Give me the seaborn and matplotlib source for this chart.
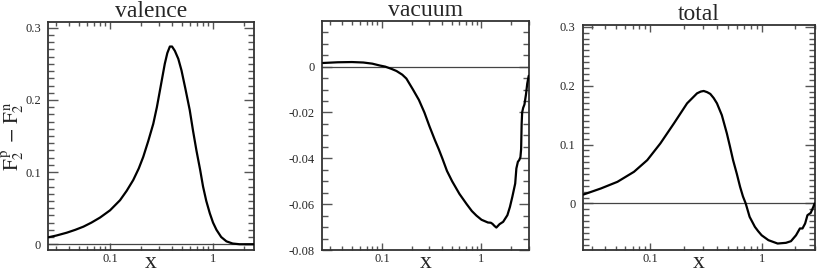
import matplotlib
matplotlib.use('Agg')
import matplotlib.pyplot as plt
import matplotlib.ticker as mticker
import pandas as pd
import seaborn as sns

# Datos (x en escala log, y = F2p - F2n)
valence_x = [0.0253, 0.030, 0.038, 0.046, 0.0552, 0.066, 0.080, 0.100, 0.125, 0.145, 0.168,
             0.19, 0.21, 0.235, 0.263, 0.285, 0.305, 0.34, 0.36, 0.381, 0.40, 0.426, 0.46,
             0.494, 0.54, 0.594, 0.64, 0.69, 0.75, 0.80, 0.86, 0.93, 1.0, 1.08, 1.2, 1.35,
             1.55, 1.81, 2.1, 2.49]
valence_y = [0.0097, 0.012, 0.016, 0.020, 0.0244, 0.030, 0.037, 0.047, 0.061, 0.074, 0.089,
             0.105, 0.121, 0.143, 0.167, 0.190, 0.213, 0.250, 0.265, 0.274, 0.274, 0.268, 0.257,
             0.241, 0.215, 0.186, 0.157, 0.130, 0.103, 0.080, 0.060, 0.043, 0.030, 0.020, 0.010, 0.004,
             0.001, 0.0, 0.0, 0.0]

vacuum_x = [0.0257, 0.036, 0.05, 0.065, 0.08, 0.095, 0.108, 0.125, 0.14, 0.16, 0.176, 0.205,
            0.235, 0.267, 0.30, 0.34, 0.372, 0.404, 0.45, 0.507, 0.6, 0.71, 0.8, 0.89, 1.0,
            1.16, 1.24, 1.29, 1.35, 1.41, 1.46, 1.52, 1.65, 1.82, 1.93, 2.04, 2.18, 2.24,
            2.32, 2.39, 2.46, 2.50, 2.53, 2.56, 2.62, 2.70, 2.80, 2.88, 2.98]
vacuum_y = [0.0016, 0.0019, 0.0020, 0.0018, 0.0013, 0.0005, 0.0, -0.001, -0.0019, -0.0035, -0.0052, -0.010,
            -0.0145, -0.020, -0.026, -0.032, -0.036, -0.040, -0.0455, -0.050, -0.0555, -0.060, -0.063, -0.065, -0.0668,
            -0.068, -0.0681, -0.0686, -0.0695, -0.0702, -0.0695, -0.0687, -0.0677, -0.0648, -0.0612, -0.0568, -0.051, -0.0444,
            -0.0415, -0.0408, -0.0395, -0.036, -0.025, -0.020, -0.018, -0.0165, -0.012, -0.0074, -0.004]

total_x = [0.0255, 0.0364, 0.0512, 0.072, 0.0946, 0.124, 0.164, 0.215, 0.264, 0.285, 0.303,
           0.325, 0.347, 0.372, 0.398, 0.44, 0.488, 0.52, 0.555, 0.60, 0.641, 0.68, 0.72,
           0.78, 0.87, 0.93, 1.0, 1.15, 1.39, 1.65, 1.83, 2.03, 2.2, 2.32, 2.45, 2.57, 2.75,
           2.9, 2.98]
total_y = [0.0153, 0.0255, 0.0368, 0.0538, 0.0736, 0.102, 0.136, 0.170, 0.187, 0.190, 0.191,
           0.189, 0.186, 0.179, 0.170, 0.150, 0.119, 0.097, 0.0735, 0.050, 0.0283, 0.012, 0.0,
           -0.0226, -0.0397, -0.0470, -0.054, -0.0623, -0.068, -0.0668, -0.064, -0.054, -0.0424, -0.0424, -0.034, -0.0199, -0.016,
           -0.0058, 0.0]

titles = ['valence', 'vacuum', 'total']

sns.set_style('ticks')
plt.rcParams['font.family'] = ['Liberation Serif', 'DejaVu Serif']
plt.rcParams['mathtext.fontset'] = 'stix'
plt.rcParams['axes.unicode_minus'] = False

fig = plt.figure(figsize=(8.17, 2.73), dpi=100)

# posiciones de cada panel [izq, abajo, ancho, alto]
boxes = [[0.0588, 0.0842, 0.2521, 0.8352],
         [0.3941, 0.0842, 0.2534, 0.8388],
         [0.7132, 0.0842, 0.2843, 0.8242]]
xlims = [(0.025, 2.5), (0.025, 3.0), (0.025, 3.0)]
ylims = [(-0.008, 0.308), (-0.08, 0.0199), (-0.079, 0.303)]
ymajor = [0.1, 0.02, 0.1]
yminor = [0.01, 0.005, 0.01]

datos = [(valence_x, valence_y), (vacuum_x, vacuum_y), (total_x, total_y)]

for i, (xs, ys) in enumerate(datos):
    ax = fig.add_axes(boxes[i])
    df = pd.DataFrame({'x': xs, 'y': ys})
    ax.axhline(0, color='#444444', lw=0.9, zorder=1)
    sns.lineplot(data=df, x='x', y='y', ax=ax, color='black', lw=1.6,
                 estimator=None, sort=True, zorder=3)
    ax.set_xscale('log')
    ax.set_xlim(*xlims[i])
    ax.set_ylim(*ylims[i])

    ax.xaxis.set_major_locator(mticker.FixedLocator([0.1, 1]))
    ax.xaxis.set_major_formatter(mticker.FixedFormatter(['0.1', '1']))
    ax.xaxis.set_minor_locator(mticker.LogLocator(base=10, subs=range(2, 10)))
    ax.xaxis.set_minor_formatter(mticker.NullFormatter())
    ax.yaxis.set_major_locator(mticker.MultipleLocator(ymajor[i]))
    ax.yaxis.set_minor_locator(mticker.MultipleLocator(yminor[i]))
    ax.yaxis.set_major_formatter(mticker.FuncFormatter(lambda v, p: '%g' % round(v, 4)))

    ax.tick_params(which='both', direction='in', top=True, right=True,
                   color='#555555', labelsize=9)
    ax.tick_params(axis='y', which='major', length=7, width=1, pad=5)
    ax.tick_params(axis='y', which='minor', length=4, width=1)
    ax.tick_params(axis='x', which='major', length=5, width=1, pad=2)
    ax.tick_params(axis='x', which='minor', length=3, width=1)
    for s in ax.spines.values():
        s.set_color('#333333')
        s.set_linewidth(1.3)

    ax.set_title(titles[i], fontsize=17, pad=1)
    ax.set_xlabel('x', fontsize=17, labelpad=-9)
    if i == 0:
        ax.set_ylabel(r'$\mathrm{F}_{2}^{\,\mathrm{p}}\;\,\mathrm{-}\;\mathrm{F}_{2}^{\,\mathrm{n}}$',
                      fontsize=15)
        ax.yaxis.set_label_coords(-0.106, 0.5)
    else:
        ax.set_ylabel('')

fig.savefig('out.png', dpi=100)
